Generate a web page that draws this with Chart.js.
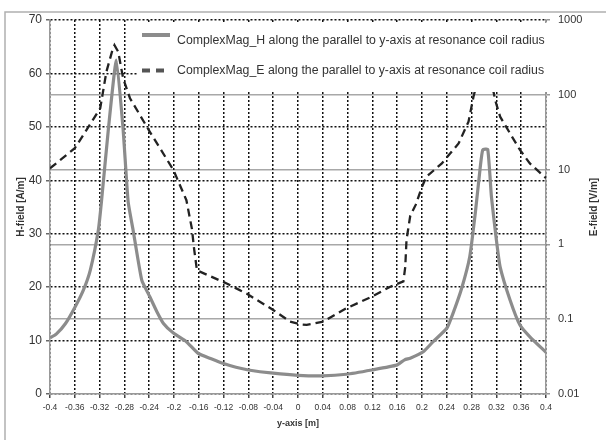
<!DOCTYPE html>
<html lang="en">
<head>
<meta charset="UTF-8">
<title>H-field and E-field along y-axis</title>
<script src="https://cdn.jsdelivr.net/npm/chart.js"></script>
<style>
  body { margin: 0; background: #fff; }
  #wrap { position: relative; width: 606px; height: 440px; }
</style>
<script>
// H-field (A/m), left axis
const hX = [-0.4, -0.39, -0.375, -0.36, -0.346, -0.335, -0.322, -0.317, -0.306, -0.293, -0.282, -0.274, -0.266, -0.252, -0.239, -0.228, -0.217, -0.201, -0.18, -0.161, -0.14, -0.12, -0.1, -0.08, -0.04, 0, 0.04, 0.078, 0.119, 0.159, 0.172, 0.181, 0.202, 0.218, 0.24, 0.25, 0.264, 0.277, 0.286, 0.294, 0.298, 0.306, 0.312, 0.32, 0.326, 0.342, 0.358, 0.374, 0.4];
const hValues = [10.5, 11.2, 13.2, 16.2, 19.5, 23.2, 30.7, 36, 49.4, 62.5, 49.4, 36, 30.7, 21.3, 18.2, 15.5, 13.2, 11.4, 9.8, 7.6, 6.6, 5.7, 5.0, 4.5, 3.9, 3.5, 3.4, 3.7, 4.5, 5.4, 6.4, 6.7, 7.9, 9.8, 12.3, 15.1, 19.8, 25.7, 33.9, 42.5, 45.7, 45.8, 36.9, 28.8, 23.8, 17.6, 12.9, 10.7, 7.8];

// E-field (V/m), right log axis
const eX = [-0.4, -0.36, -0.319, -0.309, -0.3, -0.296, -0.29, -0.282, -0.271, -0.239, -0.201, -0.18, -0.171, -0.168, -0.163, -0.115, -0.083, -0.04, -0.013, 0.005, 0.014, 0.041, 0.078, 0.119, 0.148, 0.17, 0.173, 0.175, 0.181, 0.19, 0.2, 0.207, 0.232, 0.259, 0.275, 0.283, 0.302, 0.318, 0.326, 0.342, 0.358, 0.374, 0.4];
const eValues = [10.4, 19.3, 66, 204, 377, 460, 377, 166, 90, 32, 9.9, 3.9, 1.6, 0.93, 0.45, 0.30, 0.22, 0.133, 0.093, 0.085, 0.084, 0.093, 0.14, 0.2, 0.27, 0.32, 0.5, 1.15, 2.4, 3.4, 5.9, 8.0, 12.1, 22.4, 43.6, 94, 400, 85, 51, 30.5, 18.3, 12.1, 7.7];

const xTicks = [-0.4, -0.36, -0.32, -0.28, -0.24, -0.2, -0.16, -0.12, -0.08, -0.04, 0, 0.04, 0.08, 0.12, 0.16, 0.2, 0.24, 0.28, 0.32, 0.36, 0.4];
const hTicks = [0, 10, 20, 30, 40, 50, 60, 70];
const eTicks = [0.01, 0.1, 1, 10, 100, 1000];

const seriesNames = [
    'ComplexMag_H along the parallel to y-axis at resonance coil radius',
    'ComplexMag_E along the parallel to y-axis at resonance coil radius'
];
const axisTitles = { x: 'y-axis [m]', h: 'H-field [A/m]', e: 'E-field [V/m]' };

const hColor = '#8c8c8c';
const eColor = '#222222';

// outer frame, legend box inside the plot and the right axis title
const decorPlugin = {
    id: 'decor',
    beforeDraw(chart) {
        const c = chart.ctx;
        c.save();
        c.strokeStyle = '#b0b0b0';
        c.lineWidth = 1.5;
        c.beginPath();
        c.moveTo(5, 440);
        c.lineTo(5, 12);
        c.lineTo(606, 12);
        c.stroke();
        c.restore();
    },
    afterDatasetsDraw(chart) {
        const c = chart.ctx;
        c.save();
        c.fillStyle = '#fff';
        c.fillRect(138, 23, 410, 69);

        c.strokeStyle = hColor;
        c.lineWidth = 4;
        c.beginPath();
        c.moveTo(142, 35);
        c.lineTo(170, 35);
        c.stroke();

        c.strokeStyle = '#555';
        c.lineWidth = 4;
        c.setLineDash([8, 6]);
        c.beginPath();
        c.moveTo(142, 70.5);
        c.lineTo(167, 70.5);
        c.stroke();
        c.setLineDash([]);

        c.fillStyle = '#333';
        c.font = '12.3px "Liberation Sans", Arial, sans-serif';
        c.textBaseline = 'middle';
        c.fillText(seriesNames[0], 177, 41);
        c.fillText(seriesNames[1], 177, 70.5);
        c.restore();
    },
    afterDraw(chart) {
        const c = chart.ctx;
        c.save();
        c.translate(594, 207);
        c.rotate(-Math.PI / 2);
        c.fillStyle = '#333';
        c.font = 'bold 10px "Liberation Sans", Arial, sans-serif';
        c.textAlign = 'center';
        c.textBaseline = 'middle';
        c.fillText(axisTitles.e, 0, 0);
        c.restore();
    }
};

window.onload = function() {
    const ctx = document.getElementById('chart').getContext('2d');
    new Chart(ctx, {
        type: 'line',
        data: {
            datasets: [
                {
                    label: seriesNames[0],
                    data: hX.map((x, i) => ({ x: x, y: hValues[i] })),
                    yAxisID: 'yH',
                    borderColor: hColor,
                    borderWidth: 3.2,
                    pointRadius: 0,
                    tension: 0.15,
                    fill: false
                },
                {
                    label: seriesNames[1],
                    data: eX.map((x, i) => ({ x: x, y: eValues[i] })),
                    yAxisID: 'yE',
                    borderColor: eColor,
                    borderWidth: 2.3,
                    borderDash: [8, 5],
                    pointRadius: 0,
                    tension: 0,
                    fill: false
                }
            ]
        },
        options: {
            responsive: false,
            animation: false,
            events: [],
            layout: { padding: { left: 0, right: 0, top: 20, bottom: 0 } },
            plugins: { legend: { display: false }, tooltip: { enabled: false } },
            scales: {
                yE: {
                    type: 'logarithmic',
                    position: 'right',
                    min: 0.01,
                    max: 1000,
                    afterBuildTicks: s => { s.ticks = eTicks.map(v => ({ value: v })); },
                    afterFit: s => { s.width = 60; },
                    grid: {
                        color: c => (c.tick && (c.tick.value === 1000 || c.tick.value === 0.01)) ? 'rgba(0,0,0,0)' : '#a8a8a8',
                        lineWidth: 1.5,
                        tickLength: 4,
                        tickColor: '#999'
                    },
                    border: { color: '#999', width: 1.5 },
                    ticks: {
                        color: '#333',
                        padding: 8,
                        font: { family: '"Liberation Sans", Arial, sans-serif', size: 11 },
                        callback: v => String(v)
                    },
                    title: { display: false }
                },
                yH: {
                    type: 'linear',
                    position: 'left',
                    min: 0,
                    max: 70,
                    afterBuildTicks: s => { s.ticks = hTicks.map(v => ({ value: v })); },
                    afterFit: s => { s.width = 50; },
                    grid: { color: '#111', lineWidth: 1.5, tickLength: 4, tickColor: '#666' },
                    border: { color: '#999', width: 1.5, dash: [2, 2] },
                    ticks: {
                        color: '#333',
                        padding: 4,
                        font: { family: '"Liberation Sans", Arial, sans-serif', size: 12 }
                    },
                    title: {
                        display: true,
                        text: axisTitles.h,
                        color: '#333',
                        font: { family: '"Liberation Sans", Arial, sans-serif', size: 10, weight: 'bold' },
                        padding: { top: 15, bottom: 0 }
                    }
                },
                x: {
                    type: 'linear',
                    position: 'bottom',
                    min: -0.4,
                    max: 0.4,
                    afterBuildTicks: s => { s.ticks = xTicks.map(v => ({ value: v })); },
                    afterFit: s => { s.height = 46; },
                    grid: { color: '#111', lineWidth: 1.5, tickLength: 4, tickColor: '#444' },
                    border: { color: '#999', width: 1.5, dash: [2, 2] },
                    ticks: {
                        color: '#333',
                        padding: 5,
                        maxRotation: 0,
                        autoSkip: false,
                        font: { family: '"Liberation Sans Narrow", "Liberation Sans", Arial, sans-serif', size: 8.5 },
                        callback: v => String(Math.round(v * 100) / 100)
                    },
                    title: {
                        display: true,
                        text: axisTitles.x,
                        color: '#333',
                        font: { family: '"Liberation Sans", Arial, sans-serif', size: 9, weight: 'bold' },
                        padding: { top: 0, bottom: 11 }
                    }
                }
            }
        },
        plugins: [decorPlugin]
    });
};
</script>
</head>
<body>
<div id="wrap"><canvas id="chart" width="606" height="440"></canvas></div>
</body>
</html>
